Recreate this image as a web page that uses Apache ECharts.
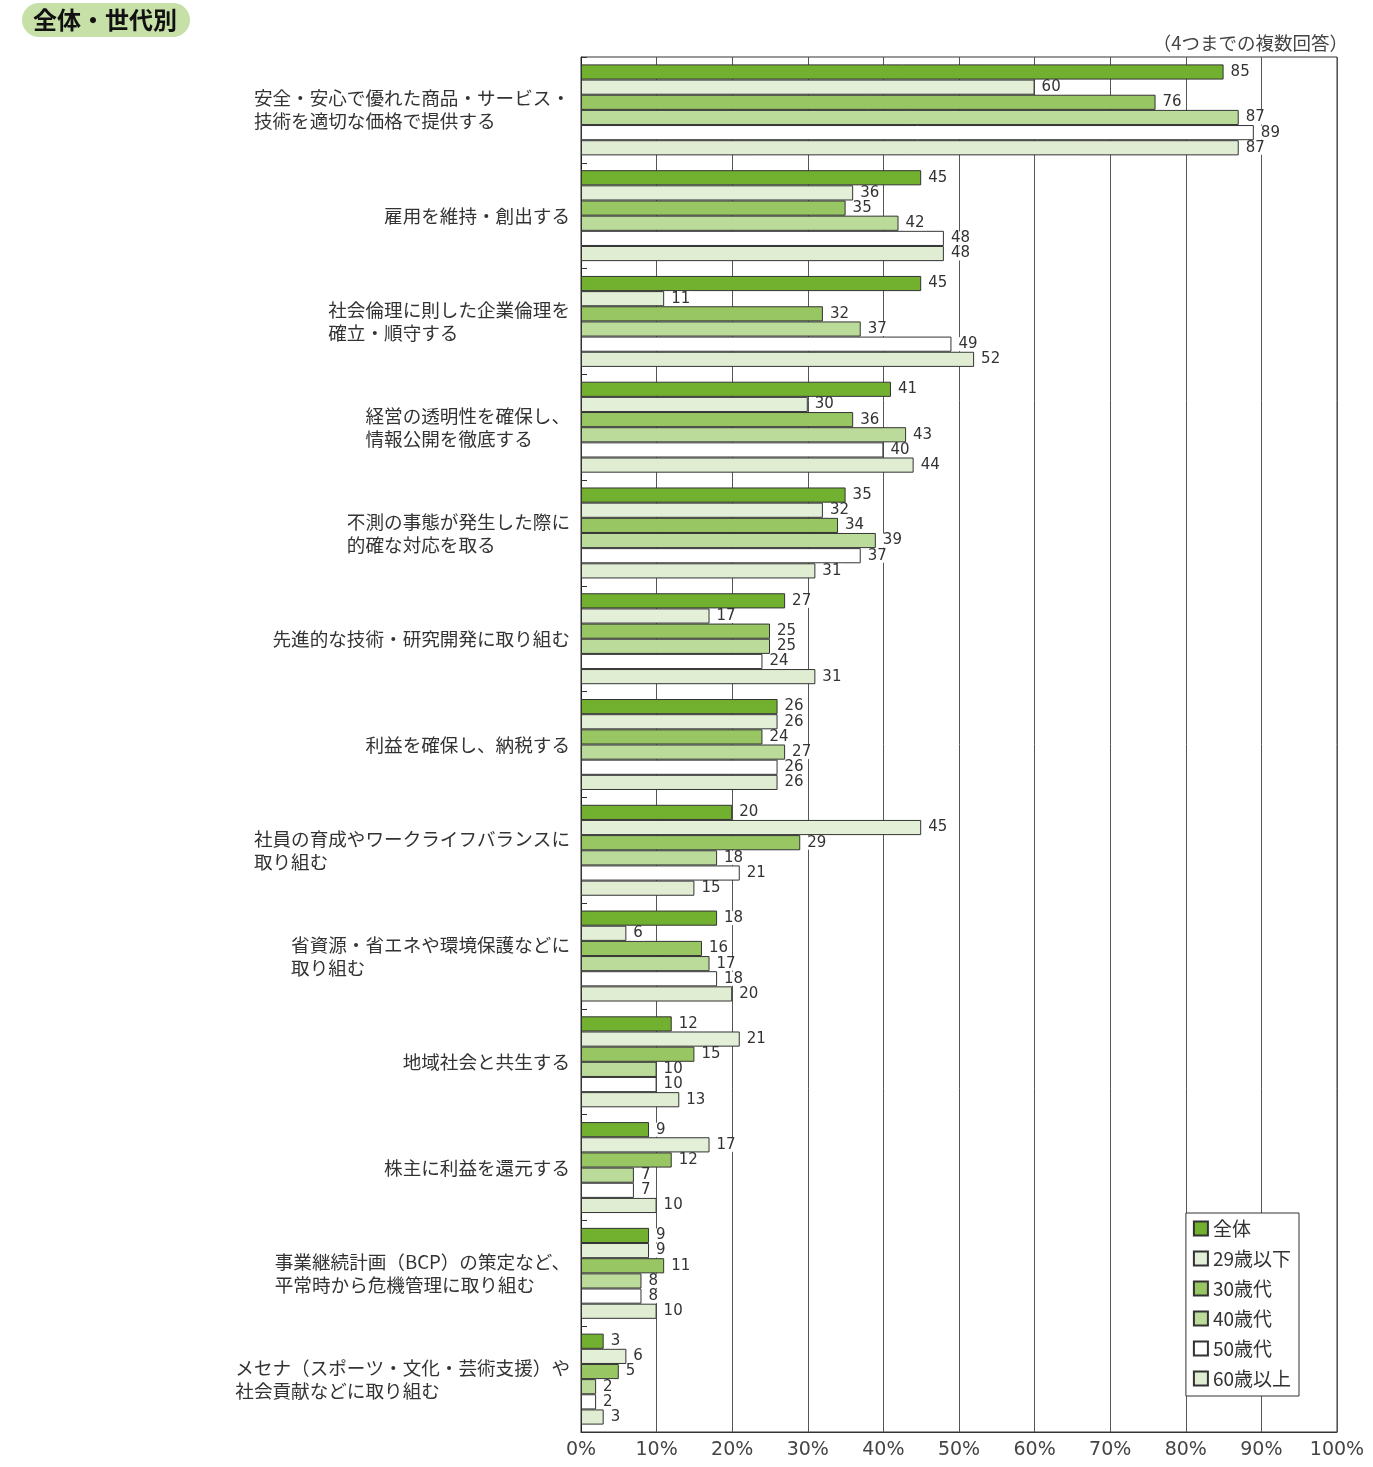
<!DOCTYPE html>
<html><head><meta charset="utf-8">
<script src="https://cdn.jsdelivr.net/npm/echarts@6/dist/echarts.min.js"></script>
<style>html,body{margin:0;padding:0;background:#fff}#c{width:1373px;height:1467px}</style>
</head><body><div id="c"></div>
<script>
const categories = [
  "安全・安心で優れた商品・サービス・\n技術を適切な価格で提供する",
  "雇用を維持・創出する",
  "社会倫理に則した企業倫理を\n確立・順守する",
  "経営の透明性を確保し、\n情報公開を徹底する",
  "不測の事態が発生した際に\n的確な対応を取る",
  "先進的な技術・研究開発に取り組む",
  "利益を確保し、納税する",
  "社員の育成やワークライフバランスに\n取り組む",
  "省資源・省エネや環境保護などに\n取り組む",
  "地域社会と共生する",
  "株主に利益を還元する",
  "事業継続計画（BCP）の策定など、\n平常時から危機管理に取り組む",
  "メセナ（スポーツ・文化・芸術支援）や\n社会貢献などに取り組む"
];
const seriesNames = ["全体","29歳以下","30歳代","40歳代","50歳代","60歳以上"];
const total    = [85,45,45,41,35,27,26,20,18,12,9,9,3];
const under29  = [60,36,11,30,32,17,26,45,6,21,17,9,6];
const age30s   = [76,35,32,36,34,25,24,29,16,15,12,11,5];
const age40s   = [87,42,37,43,39,25,27,18,17,10,7,8,2];
const age50s   = [89,48,49,40,37,24,26,21,18,10,7,8,2];
const over60   = [87,48,52,44,31,31,26,15,20,13,10,10,3];
const xTicks = [0,10,20,30,40,50,60,70,80,90,100];
const title = "全体・世代別";
const note = "（4つまでの複数回答）";

const values = [total, under29, age30s, age40s, age50s, over60];
const colors = ["#72b02f","#e3efd7","#97c663","#badb9a","#ffffff","#e0edd3"];
const FONT = "'Noto Sans CJK JP', sans-serif";
const NUMFONT = "'DejaVu Sans', sans-serif";

const chart = echarts.init(document.getElementById('c'), null, {renderer:'canvas'});
chart.setOption({
  animation: false,
  backgroundColor: '#fff',
  title: [{
    text: title, left: 22, top: 3,
    backgroundColor: '#c6e0a8', borderRadius: 17,
    padding: [4, 13, 4, 11],
    textStyle: {fontFamily: FONT, fontSize: 24, fontWeight: 'bold', color: '#111', lineHeight: 26}
  },{
    text: note, right: 20, top: 29,
    textStyle: {fontFamily: FONT, fontSize: 18.5, fontWeight: 'normal', color: '#444'}
  }],
  legend: {
    orient: 'vertical', right: 74, top: 1213,
    data: seriesNames,
    backgroundColor: '#fff', borderColor: '#333', borderWidth: 1,
    padding: [6, 8, 8, 7], itemGap: 11, itemWidth: 14, itemHeight: 14,
    icon: 'rect',
    textStyle: {fontFamily: FONT, fontSize: 19, color: '#333'}
  },
  grid: {left: 581, right: 36, top: 57, bottom: 35, show: true, borderColor: '#333', borderWidth: 1, containLabel: false},
  xAxis: {
    type: 'value', min: 0, max: 100, interval: 10,
    axisLine: {show: true, lineStyle: {color: '#333'}},
    axisTick: {show: false},
    splitLine: {show: true, lineStyle: {color: '#555', width: 1}},
    axisLabel: {fontFamily: NUMFONT, fontSize: 19, color: '#444', margin: 9,
      formatter: v => xTicks.includes(v) ? v + '%' : ''}
  },
  yAxis: {
    type: 'category', inverse: true, data: categories,
    axisLine: {show: true, lineStyle: {color: '#222'}},
    axisTick: {show: true, inside: true, length: 6, lineStyle: {color: '#333'}},
    axisLabel: {
      fontFamily: FONT, fontSize: 18.6, color: '#333', margin: 11, lineHeight: 23, align: 'right',
      formatter: v => v.split('\n').map(s => '{a|' + s + '}').join('\n'),
      rich: {a: {align: 'left', fontFamily: FONT, fontSize: 18.6, color: '#333', lineHeight: 23}}
    }
  },
  series: seriesNames.map((n, i) => ({
    name: n, type: 'bar', data: values[i],
    barGap: '0%', barCategoryGap: '14%',
    itemStyle: {color: colors[i], borderColor: '#333', borderWidth: 1},
    label: {show: true, position: 'right', distance: 5, fontFamily: NUMFONT, fontSize: 15, color: '#333',
      backgroundColor: '#fff', padding: [0, 2, 0, 2], lineHeight: 14}
  }))
});
</script></body></html>
